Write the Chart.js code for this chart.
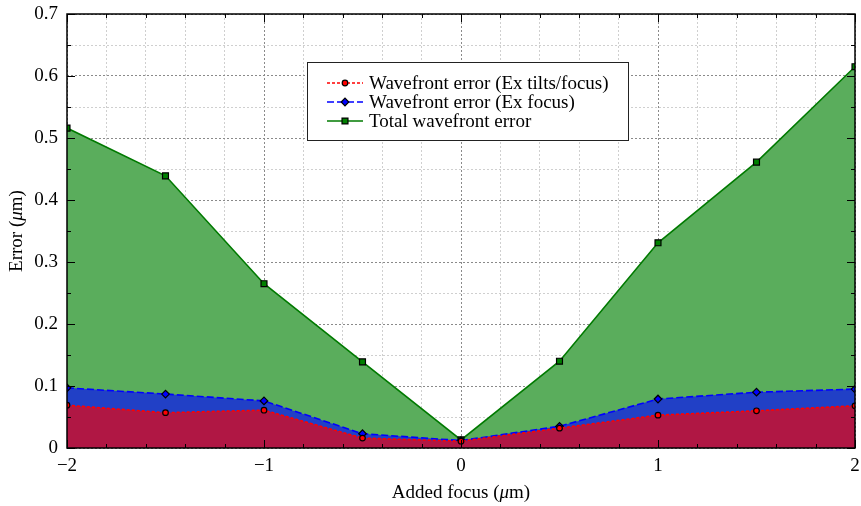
<!DOCTYPE html>
<html>
<head>
<meta charset="utf-8">
<script src="https://cdn.jsdelivr.net/npm/chart.js@4.4.1/dist/chart.umd.min.js"></script>
<style>
  html, body { margin: 0; padding: 0; background: #fff; }
  #wrap { width: 861px; height: 506px; }
</style>
</head>
<body>
<div id="wrap"><canvas id="wf-chart"></canvas></div>
<script>
// data
var focusPositions = [-2, -1.5, -1, -0.5, 0, 0.5, 1, 1.5, 2];
var errTiltsFocus = [0.069, 0.057, 0.061, 0.016, 0.011, 0.032, 0.053, 0.060, 0.068];
var errFocus      = [0.097, 0.087, 0.076, 0.023, 0.012, 0.035, 0.079, 0.090, 0.095];
var errTotal      = [0.516, 0.439, 0.265, 0.139, 0.013, 0.140, 0.331, 0.461, 0.615];
var seriesNames = ["Wavefront error (Ex tilts/focus)", "Wavefront error (Ex focus)", "Total wavefront error"];
var xTickLabels = ["\u22122", "\u22121", "0", "1", "2"];
var yTickLabels = ["0", "0.1", "0.2", "0.3", "0.4", "0.5", "0.6", "0.7"];

var serif = "'Liberation Serif', 'Times New Roman', serif";
var fontPx = 19;
Chart.defaults.font.family = serif;
Chart.defaults.font.size = fontPx;
Chart.defaults.color = "#000";

function pts(ys) {
    return focusPositions.map(function (x, i) { return { x: x, y: ys[i] }; });
}
function nearInt(v) { return Math.abs(v - Math.round(v)) < 1e-6; }

// draws text pieces, some of them italic, centred on x
function drawMixed(ctx, parts, x, y) {
    var total = 0;
    parts.forEach(function (p) {
        ctx.font = (p[1] ? "italic " : "") + fontPx + "px " + serif;
        total += ctx.measureText(p[0]).width;
    });
    var cx = x - total / 2;
    parts.forEach(function (p) {
        ctx.font = (p[1] ? "italic " : "") + fontPx + "px " + serif;
        ctx.fillText(p[0], cx, y);
        cx += ctx.measureText(p[0]).width;
    });
}

var frameAndTicks = {
    id: "frameAndTicks",
    afterDatasetsDraw: function (chart) {
        var ctx = chart.ctx, a = chart.chartArea, xs = chart.scales.x, ys = chart.scales.y;
        ctx.save();
        ctx.strokeStyle = "#000";
        ctx.lineWidth = 1;
        ctx.beginPath();
        xs.ticks.forEach(function (t) {
            var px = Math.round(xs.getPixelForValue(t.value)) + 0.5;
            var len = nearInt(t.value) ? 8 : 4;
            ctx.moveTo(px, a.bottom); ctx.lineTo(px, a.bottom - len);
            ctx.moveTo(px, a.top); ctx.lineTo(px, a.top + len);
        });
        ys.ticks.forEach(function (t) {
            var py = Math.round(ys.getPixelForValue(t.value)) + 0.5;
            var len = nearInt(t.value * 10) ? 8 : 4;
            ctx.moveTo(a.left, py); ctx.lineTo(a.left + len, py);
            ctx.moveTo(a.right, py); ctx.lineTo(a.right - len, py);
        });
        ctx.stroke();
        ctx.lineWidth = 1.5;
        ctx.strokeRect(a.left, a.top, a.right - a.left, a.bottom - a.top);
        ctx.restore();
    },
    afterDraw: function (chart) {
        var ctx = chart.ctx, a = chart.chartArea;
        ctx.save();
        // axis titles
        ctx.fillStyle = "#000";
        ctx.textBaseline = "middle";
        ctx.textAlign = "left";
        drawMixed(ctx, [["Added focus (", false], ["\u03bc", true], ["m)", false]], (a.left + a.right) / 2, 493);
        ctx.translate(17, (a.top + a.bottom) / 2);
        ctx.rotate(-Math.PI / 2);
        drawMixed(ctx, [["Error (", false], ["\u03bc", true], ["m)", false]], 0, 0);
        ctx.restore();

        // legend box
        ctx.save();
        var bx = 307, by = 62, bw = 321, bh = 78;
        ctx.fillStyle = "#fff";
        ctx.fillRect(bx, by, bw, bh);
        ctx.strokeStyle = "#222";
        ctx.lineWidth = 1;
        ctx.strokeRect(bx + 0.5, by + 0.5, bw, bh);
        ctx.font = fontPx + "px " + serif;
        ctx.textBaseline = "middle";
        ctx.textAlign = "left";
        chart.data.datasets.forEach(function (ds, i) {
            var ry = by + 21 + i * 19;
            ctx.save();
            ctx.strokeStyle = ds.borderColor;
            ctx.lineWidth = ds.borderWidth;
            ctx.setLineDash(ds.borderDash || []);
            ctx.beginPath();
            ctx.moveTo(bx + 20, ry); ctx.lineTo(bx + 56, ry);
            ctx.stroke();
            ctx.setLineDash([]);
            ctx.fillStyle = ds.pointBackgroundColor;
            ctx.strokeStyle = ds.pointBorderColor;
            ctx.lineWidth = ds.pointBorderWidth;
            Chart.helpers.drawPoint(ctx, { pointStyle: ds.pointStyle, radius: ds.pointRadius, borderWidth: ds.pointBorderWidth, rotation: 0 }, bx + 38, ry);
            ctx.restore();
            ctx.fillStyle = "#000";
            ctx.fillText(ds.label, bx + 62, ry + 1);
        });
        ctx.restore();
    }
};

new Chart(document.getElementById("wf-chart"), {
    type: "line",
    data: {
        datasets: [{
            label: seriesNames[0],
            data: pts(errTiltsFocus),
            borderColor: "#ff0000",
            borderWidth: 1.6,
            borderDash: [3, 2],
            backgroundColor: "#b01744",
            fill: "origin",
            pointStyle: "circle",
            pointRadius: 2.8,
            pointBackgroundColor: "#ff0000",
            pointBorderColor: "#000",
            pointBorderWidth: 1.2,
            tension: 0
        }, {
            label: seriesNames[1],
            data: pts(errFocus),
            borderColor: "#0000ff",
            borderWidth: 1.6,
            borderDash: [7, 3],
            backgroundColor: "#2140c6",
            fill: "origin",
            pointStyle: "rectRot",
            pointRadius: 3.8,
            pointBackgroundColor: "#0000ff",
            pointBorderColor: "#000",
            pointBorderWidth: 1.2,
            tension: 0
        }, {
            label: seriesNames[2],
            data: pts(errTotal),
            borderColor: "#007a00",
            borderWidth: 1.6,
            backgroundColor: "#5aad5c",
            fill: "origin",
            pointStyle: "rect",
            pointRadius: 4.2,
            pointBackgroundColor: "#008000",
            pointBorderColor: "#000",
            pointBorderWidth: 1.2,
            tension: 0
        }]
    },
    options: {
        responsive: true,
        maintainAspectRatio: false,
        animation: false,
        layout: { padding: { left: 0, right: 0, top: 14, bottom: 0 } },
        plugins: {
            legend: { display: false },
            tooltip: { enabled: false },
            title: { display: false }
        },
        scales: {
            x: {
                type: "linear",
                min: -2, max: 2,
                afterFit: function (s) { s.height = 58; s.paddingRight = 6; },
                ticks: {
                    stepSize: 0.2,
                    autoSkip: false,
                    maxRotation: 0,
                    padding: 7,
                    callback: function (v) {
                        return nearInt(v) ? xTickLabels[Math.round(v) + 2] : "";
                    }
                },
                grid: {
                    drawTicks: false,
                    lineWidth: 1,
                    color: function (c) { return c.tick && nearInt(c.tick.value) ? "#8a8a8a" : "#cfcfcf"; }
                },
                border: { display: false, dash: [2, 2] }
            },
            y: {
                min: 0, max: 0.7,
                afterFit: function (s) { s.width = 67; s.paddingTop = 14; },
                ticks: {
                    stepSize: 0.05,
                    autoSkip: false,
                    padding: 9,
                    callback: function (v) {
                        return nearInt(v * 10) ? yTickLabels[Math.round(v * 10)] : "";
                    }
                },
                grid: {
                    drawTicks: false,
                    lineWidth: 1,
                    color: function (c) { return c.tick && nearInt(c.tick.value * 10) ? "#8a8a8a" : "#cfcfcf"; }
                },
                border: { display: false, dash: [2, 2] }
            }
        }
    },
    plugins: [frameAndTicks]
});
</script>
</body>
</html>
